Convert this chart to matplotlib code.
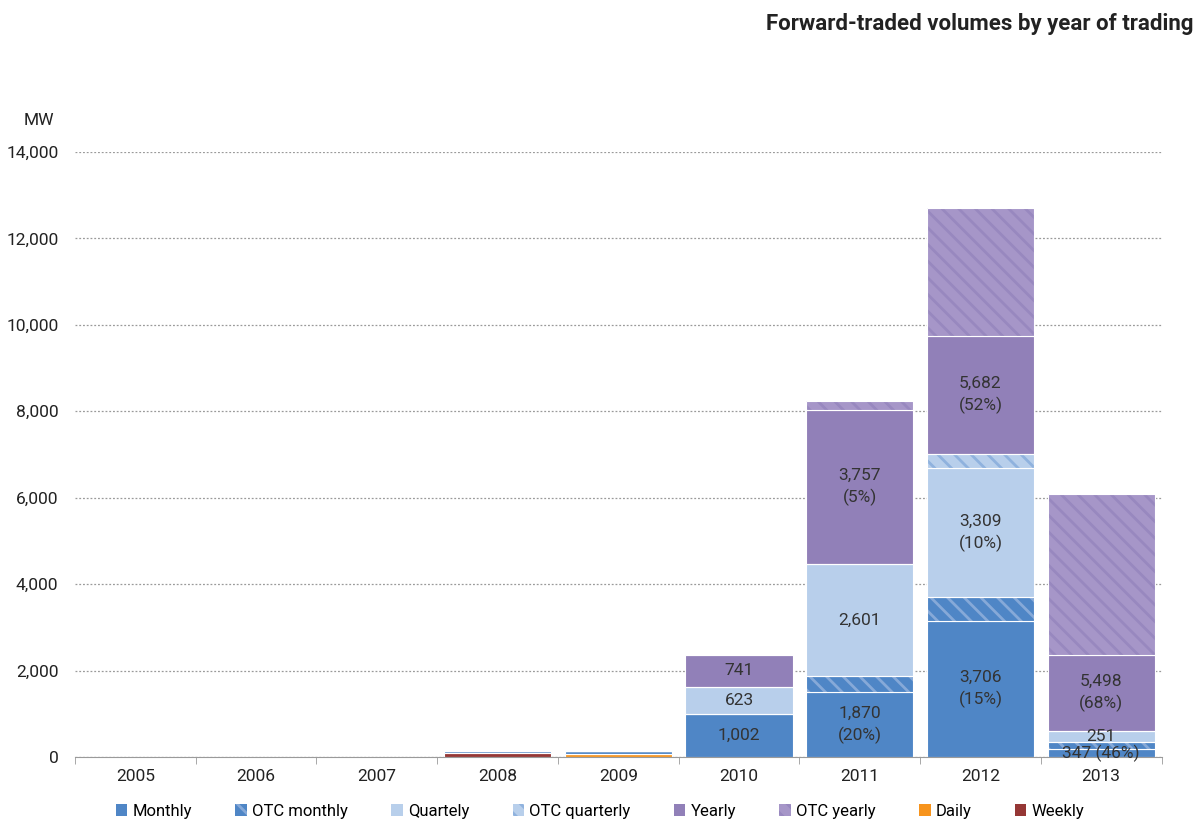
import matplotlib.pyplot as plt
from matplotlib.patches import Patch
import numpy as np

plt.rcParams['font.family'] = ['Roboto', 'DejaVu Sans']
plt.rcParams['hatch.linewidth'] = 2.0

# Forward-traded volumes (MW) by year of trading
years = ["2005", "2006", "2007", "2008", "2009", "2010", "2011", "2012", "2013"]
daily = [0, 0, 0, 0, 80, 0, 0, 0, 0]
weekly = [0, 0, 0, 90, 0, 0, 0, 0, 0]
monthly = [0, 0, 0, 40, 50, 1002, 1496, 3150, 187]
otc_monthly = [0, 0, 0, 0, 0, 0, 374, 556, 160]
quarterly = [0, 0, 0, 0, 15, 623, 2601, 2978, 251]
otc_quarterly = [0, 0, 0, 0, 0, 0, 0, 331, 0]
yearly = [0, 0, 0, 0, 0, 741, 3569, 2727, 1759]
otc_yearly = [0, 0, 0, 0, 0, 0, 188, 2955, 3739]

c_month = "#4f86c6"
c_quart = "#b8cfeb"
c_year = "#9180b8"
c_daily = "#f7941d"
c_weekly = "#953735"
HATCH = "\\\\"

x = np.arange(len(years))
width = 0.89

fig = plt.figure(figsize=(12, 8.23), dpi=100)
ax = fig.add_axes([0.0625, 0.0802, 0.9055, 0.7351])

bottom = np.zeros(len(years))


def solid(vals, color):
    global bottom
    vals = np.array(vals, dtype=float)
    ax.bar(x, vals, width, bottom=bottom, color=color, edgecolor="white",
           linewidth=0.8, zorder=2)
    bottom = bottom + vals


def hatched(vals, face, stripe):
    global bottom
    vals = np.array(vals, dtype=float)
    ax.bar(x, vals, width, bottom=bottom, color=face, edgecolor=stripe,
           linewidth=0, hatch=HATCH, zorder=2)
    ax.bar(x, vals, width, bottom=bottom, fill=False, edgecolor="white",
           linewidth=0.8, zorder=3)
    bottom = bottom + vals


solid(daily, c_daily)
solid(weekly, c_weekly)
base_m = bottom.copy()
solid(monthly, c_month)
hatched(otc_monthly, c_month, "#86a9d8")
base_q = bottom.copy()
solid(quarterly, c_quart)
hatched(otc_quarterly, c_quart, "#8fb2de")
base_y = bottom.copy()
solid(yearly, c_year)
hatched(otc_yearly, "#a696c8", "#9888bf")

# value labels (total of product, OTC share), centred on exchange part
for i in range(len(years)):
    for base, ex, otc in ((base_m, monthly, otc_monthly),
                          (base_q, quarterly, otc_quarterly),
                          (base_y, yearly, otc_yearly)):
        total = ex[i] + otc[i]
        if total < 200:
            continue
        txt = f"{total:,}"
        if otc[i] > 0:
            pct = round(100 * otc[i] / total)
            sep = " " if ex[i] < 400 else "\n"
            txt += f"{sep}({pct}%)"
        ax.text(x[i], base[i] + ex[i] / 2, txt, ha="center", va="center",
                fontsize=12.5, color="#333333", zorder=4, linespacing=1.45)

ax.set_xlim(-0.5, len(years) - 0.5)
ax.set_ylim(0, 14000)
ax.set_yticks(np.arange(0, 14001, 2000))
ax.set_yticklabels([f"{v:,}" for v in range(0, 14001, 2000)])
ax.yaxis.grid(True, linestyle=(0, (1.5, 1.5)), color="#9a9a9a", linewidth=0.9)
ax.set_axisbelow(True)
ax.set_xticks(x)
ax.set_xticklabels(years)
ax.set_xticks(np.arange(-0.5, len(years)), minor=True)
ax.tick_params(axis="x", which="major", length=0, pad=9, labelsize=12.5,
               colors="#222222")
ax.tick_params(axis="x", which="minor", length=5, color="#9a9a9a")
ax.tick_params(axis="y", length=0, pad=12, labelsize=12.5, colors="#222222")
for s in ("left", "right", "top"):
    ax.spines[s].set_visible(False)
ax.spines["bottom"].set_color("#9a9a9a")

fig.text(0.032, 0.848, "MW", fontsize=12.5, color="#222222", ha="center")
fig.text(0.995, 0.963, "Forward-traded volumes by year of trading",
         fontsize=16, fontweight="bold", ha="right", color="#222222")

handles = [
    Patch(facecolor=c_month),
    Patch(facecolor=c_month, edgecolor="#86a9d8", hatch=HATCH, linewidth=0),
    Patch(facecolor=c_quart),
    Patch(facecolor=c_quart, edgecolor="#8fb2de", hatch=HATCH, linewidth=0),
    Patch(facecolor=c_year),
    Patch(facecolor="#a696c8", edgecolor="#9888bf", hatch=HATCH, linewidth=0),
    Patch(facecolor=c_daily),
    Patch(facecolor=c_weekly),
]
names = ["Monthly", "OTC monthly", "Quartely", "OTC quarterly", "Yearly",
         "OTC yearly", "Daily", "Weekly"]
fig.legend(handles, names, loc="center", bbox_to_anchor=(0.5, 0.014),
           ncol=8, frameon=False, fontsize=12, handlelength=0.7,
           handleheight=0.7, handletextpad=0.3, columnspacing=2.6)

fig.savefig("out.png", dpi=100)
